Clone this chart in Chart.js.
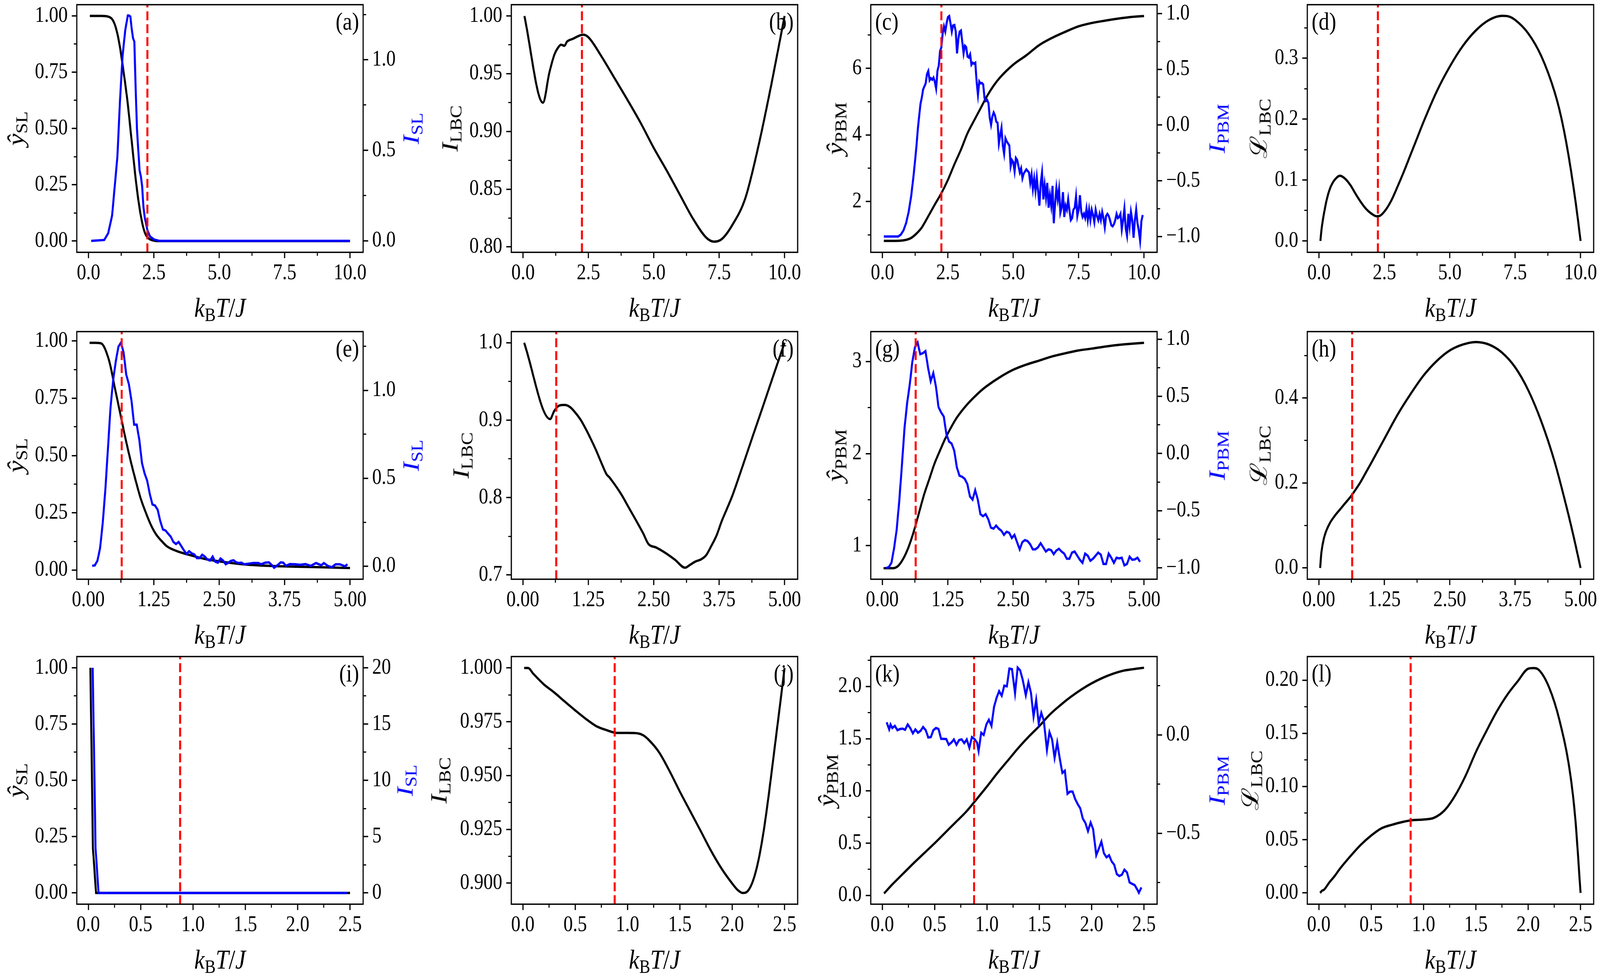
<!DOCTYPE html>
<html>
<head>
<meta charset="utf-8">
<title>SL / LBC / PBM panels</title>
<script src="https://cdn.jsdelivr.net/npm/chart.js@4.4.1/dist/chart.umd.min.js"></script>
<style>
  html, body { margin: 0; padding: 0; background: #fff; overflow: hidden; width: 100%; height: 100%; }
  body { font-family: 'Liberation Serif', 'DejaVu Serif', serif; color: #000; }
  #fig { position: absolute; left: 0; top: 0; width: 4772px; height: 2504px; transform-origin: 0 0; background: #fff; }
  canvas { position: absolute; }
  .lab { position: absolute; font-size: 70px; line-height: 1; white-space: nowrap;
         transform: translate(-50%, -50%); }
  .lab.rot { transform: translate(-50%, -50%) rotate(-90deg); }
  .lab sub { font-size: 0.7em; vertical-align: baseline; position: relative; top: 0.22em; font-style: normal; }
  .tag { position: absolute; font-size: 63px; line-height: 1; white-space: nowrap; }
  .blue { color: #0000ff; }
</style>
</head>
<body>
<div id="fig"></div>
<script>
// ---- x axes, one per row ----
const xRange = [[-0.45, 10.5], [-0.22, 5.25], [-0.11, 2.625]];
const xTicks = [[0, 2.5, 5, 7.5, 10], [0, 1.25, 2.5, 3.75, 5], [0, 0.5, 1, 1.5, 2, 2.5]];
const xMinor = [[1.25, 3.75, 6.25, 8.75], [0.625, 1.875, 3.125, 4.375], [0.25, 0.75, 1.25, 1.75, 2.25]];
const xDigits = [1, 2, 1];
const tcRow = [2.25, 0.638, 0.877];   // red dashed line per row

// ---- y tick sets ----
const ticksSL = [0, 0.25, 0.5, 0.75, 1.0];
const minorSL = [0.125, 0.375, 0.625, 0.875];
const ticksISL = [0, 0.5, 1.0];
const minorISL = [0.25, 0.75, 1.25];
const ticksIPBM = [-1.0, -0.5, 0, 0.5, 1.0];
const minorIPBM = [-0.75, -0.25, 0.25, 0.75];

// ---- (a) ----
const aBlack = [[0.05,1.0],[0.5,1.0],[0.75,0.997],[0.9,0.986],[1.0,0.963],[1.1,0.922],[1.2,0.862],[1.3,0.784],[1.4,0.701],[1.5,0.609],[1.6,0.499],[1.7,0.388],[1.8,0.278],[1.9,0.186],[2.0,0.112],[2.1,0.057],[2.2,0.025],[2.3,0.011],[2.5,0.002],[2.7,0.0],[10.0,0.0]];
const aBlue = [[0.1,0],[0.6,0.005],[0.75,0.042],[0.9,0.14],[1.0,0.30],[1.1,0.46],[1.15,0.61],[1.2,0.77],[1.3,1.02],[1.4,1.16],[1.5,1.244],[1.55,1.244],[1.6,1.238],[1.65,1.17],[1.7,1.12],[1.75,1.10],[1.8,0.85],[1.85,0.62],[1.95,0.39],[2.0,0.357],[2.05,0.30],[2.1,0.185],[2.15,0.128],[2.25,0.06],[2.35,0.025],[2.5,0.008],[2.7,0],[10.0,0]];
// ---- (b) ----
const bBlack = [[0.05,1.0],[0.76,0.9249],[1.0,0.9505],[1.2,0.9667],[1.35,0.973],[1.45,0.9751],[1.58,0.9742],[1.68,0.9778],[1.9,0.9802],[2.3,0.9838],[2.5,0.9815],[3.0,0.9649],[3.5,0.946],[4.0,0.927],[4.5,0.9072],[5.0,0.8856],[5.5,0.8658],[6.0,0.845],[6.5,0.8243],[7.0,0.8081],[7.3,0.8045],[7.6,0.8068],[8.0,0.8189],[8.5,0.8423],[9.0,0.8874],[9.5,0.9414],[10.0,1.0]];
// ---- (c) ----
const cBlack = [[0.05,0.82],[0.5,0.82],[0.9,0.85],[1.1,0.91],[1.3,1.04],[1.5,1.22],[1.75,1.56],[2.0,1.91],[2.25,2.25],[2.5,2.65],[2.75,3.12],[3.0,3.56],[3.25,4.05],[3.5,4.43],[3.75,4.80],[4.0,5.17],[4.25,5.48],[4.5,5.73],[5.0,6.11],[5.5,6.39],[6.0,6.70],[6.5,6.92],[7.0,7.10],[7.5,7.26],[8.0,7.36],[8.5,7.43],[9.0,7.49],[9.5,7.54],[10.0,7.57]];
const cBlue = [[0.05,-1.0],[0.6,-1.0],[0.7,-0.983],[0.8,-0.946],[0.9,-0.881],[1.0,-0.779],[1.1,-0.630],[1.2,-0.426],[1.3,-0.184],[1.35,-0.035],[1.4,0.076],[1.45,0.188],[1.5,0.243],[1.55,0.318],[1.6,0.346],[1.65,0.374],[1.7,0.457],[1.75,0.485],[1.8,0.401],[1.85,0.420],[1.9,0.407],[1.95,0.426],[2.0,0.388],[2.05,0.327],[2.1,0.485],[2.15,0.532],[2.2,0.662],[2.25,0.699],[2.3,0.820],[2.35,0.885],[2.4,0.838],[2.45,0.913],[2.5,0.968],[2.55,0.978],[2.6,0.913],[2.65,0.838],[2.7,0.894],[2.75,0.898],[2.8,0.838],[2.85,0.643],[2.9,0.773],[2.95,0.838],[3.0,0.848],[3.05,0.745],[3.1,0.643],[3.15,0.712],[3.2,0.699],[3.25,0.615],[3.3,0.606],[3.35,0.634],[3.4,0.541],[3.45,0.559],[3.5,0.550],[3.55,0.559],[3.6,0.383],[3.65,0.271],[3.7,0.392],[3.75,0.374],[3.8,0.377],[3.85,0.364],[3.9,0.243],[3.95,0.216],[4.0,0.225],[4.05,0.197],[4.1,0.067],[4.15,0.002],[4.2,0.076],[4.25,0.113],[4.3,0.086],[4.35,0.030],[4.4,0.020],[4.45,-0.165],[4.5,-0.091],[4.55,-0.026],[4.6,-0.184],[4.65,-0.258],[4.7,-0.119],[4.75,-0.147],[4.8,-0.165],[4.85,-0.184],[4.9,-0.370],[4.95,-0.314],[5.0,-0.333],[5.05,-0.416],[5.1,-0.296],[5.15,-0.314],[5.2,-0.370],[5.25,-0.426],[5.3,-0.388],[5.35,-0.478],[5.4,-0.435],[5.5,-0.398],[5.6,-0.426],[5.65,-0.519],[5.7,-0.444],[5.75,-0.574],[5.8,-0.481],[5.85,-0.593],[5.9,-0.472],[5.95,-0.593],[6.0,-0.723],[6.05,-0.519],[6.1,-0.426],[6.15,-0.667],[6.2,-0.537],[6.25,-0.649],[6.3,-0.519],[6.35,-0.742],[6.4,-0.630],[6.45,-0.723],[6.5,-0.546],[6.55,-0.881],[6.6,-0.704],[6.65,-0.565],[6.7,-0.667],[6.75,-0.574],[6.8,-0.788],[6.85,-0.742],[6.9,-0.602],[6.95,-0.825],[7.0,-0.723],[7.05,-0.760],[7.1,-0.667],[7.15,-0.770],[7.2,-0.853],[7.25,-0.835],[7.3,-0.760],[7.35,-0.742],[7.4,-0.639],[7.45,-0.816],[7.5,-0.760],[7.55,-0.630],[7.6,-0.779],[7.65,-0.825],[7.7,-0.797],[7.75,-0.835],[7.8,-0.751],[7.85,-0.853],[7.9,-0.760],[7.95,-0.853],[8.0,-0.760],[8.05,-0.807],[8.1,-0.872],[8.15,-0.760],[8.2,-0.816],[8.25,-0.853],[8.3,-0.797],[8.35,-0.853],[8.4,-0.779],[8.45,-0.835],[8.5,-0.918],[8.55,-0.816],[8.6,-0.797],[8.65,-0.816],[8.7,-0.853],[8.75,-0.900],[8.8,-0.909],[8.85,-0.890],[8.9,-0.853],[8.95,-0.797],[9.0,-0.835],[9.05,-0.825],[9.1,-0.797],[9.15,-0.937],[9.2,-0.853],[9.25,-0.751],[9.3,-0.928],[9.35,-0.993],[9.4,-0.797],[9.45,-0.909],[9.5,-0.779],[9.55,-0.853],[9.6,-1.011],[9.65,-0.853],[9.7,-0.760],[9.75,-0.881],[9.8,-0.946],[9.85,-1.039],[9.9,-0.862],[9.95,-0.807]];
// ---- (d) ----
const dBlack = [[0.05,0],[0.1,0.021],[0.2,0.048],[0.3,0.069],[0.4,0.084],[0.5,0.094],[0.7,0.105],[0.8,0.107],[1.0,0.102],[1.2,0.0915],[1.4,0.077],[1.6,0.0636],[1.8,0.0524],[2.0,0.0449],[2.2,0.0405],[2.3,0.0408],[2.5,0.0483],[2.75,0.0653],[3.0,0.0891],[3.25,0.1146],[3.5,0.1418],[3.75,0.169],[4.0,0.196],[4.5,0.2456],[5.0,0.2864],[5.5,0.3204],[6.0,0.3459],[6.5,0.3629],[7.0,0.3697],[7.25,0.3687],[7.5,0.3629],[8.0,0.3408],[8.5,0.3034],[9.0,0.2456],[9.25,0.2048],[9.5,0.1503],[9.75,0.0823],[9.9,0.0347],[10.0,0]];
// ---- (e) ----
const eBlack = [[0.025,0.992],[0.15,0.992],[0.25,0.989],[0.3,0.975],[0.35,0.948],[0.4,0.912],[0.45,0.862],[0.5,0.803],[0.55,0.749],[0.6,0.694],[0.65,0.640],[0.7,0.585],[0.8,0.485],[0.9,0.395],[1.0,0.313],[1.1,0.250],[1.2,0.195],[1.3,0.154],[1.4,0.127],[1.5,0.104],[1.7,0.082],[1.9,0.068],[2.2,0.050],[2.5,0.038],[3.0,0.0245],[3.5,0.018],[4.0,0.0145],[4.5,0.012],[5.0,0.009]];
const eBlue = [[0.075,0.002],[0.125,0.005],[0.175,0.032],[0.225,0.103],[0.275,0.244],[0.325,0.433],[0.375,0.669],[0.425,0.906],[0.475,1.059],[0.525,1.165],[0.575,1.248],[0.625,1.272],[0.675,1.213],[0.725,1.089],[0.775,1.035],[0.825,0.941],[0.875,0.805],[0.925,0.805],[0.975,0.717],[1.025,0.587],[1.075,0.528],[1.125,0.486],[1.175,0.410],[1.225,0.351],[1.275,0.345],[1.325,0.321],[1.375,0.256],[1.425,0.209],[1.475,0.203],[1.525,0.185],[1.575,0.168],[1.625,0.138],[1.675,0.126],[1.725,0.138],[1.775,0.115],[1.825,0.091],[1.875,0.070],[1.925,0.085],[1.975,0.073],[2.025,0.067],[2.075,0.046],[2.125,0.046],[2.175,0.065],[2.225,0.055],[2.275,0.038],[2.325,0.032],[2.375,0.055],[2.425,0.026],[2.475,0.020],[2.525,0.044],[2.575,0.032],[2.625,0.011],[2.675,0.020],[2.725,0.030],[2.775,0.034],[2.825,0.022],[2.875,0.018],[2.925,0.020],[2.975,0.011],[3.05,0.014],[3.15,0.018],[3.25,0.018],[3.3,0.011],[3.375,0.020],[3.45,0.022],[3.5,0.008],[3.55,-0.009],[3.625,0.008],[3.675,0.022],[3.725,0.020],[3.775,0.002],[3.85,0.012],[3.95,0.011],[4.05,0.008],[4.15,0.012],[4.25,0.002],[4.35,0.018],[4.45,0.005],[4.5,0.018],[4.575,0.002],[4.65,-0.006],[4.725,0.011],[4.8,0.011],[4.85,0.006],[4.9,-0.001],[4.95,0.011]];
// ---- (f) ----
const fBlack = [[0.025,1.0],[0.52,0.9015],[0.6,0.912],[0.7,0.919],[0.8,0.9197],[0.9,0.917],[1.0,0.910],[1.1,0.901],[1.2,0.889],[1.3,0.8755],[1.4,0.861],[1.5,0.845],[1.6,0.830],[1.65,0.8264],[1.7,0.822],[1.8,0.8125],[1.9,0.802],[2.0,0.790],[2.1,0.778],[2.2,0.766],[2.3,0.7536],[2.4,0.740],[2.55,0.7354],[2.7,0.7295],[2.9,0.720],[3.1,0.7094],[3.2,0.7134],[3.3,0.7174],[3.4,0.720],[3.5,0.7254],[3.6,0.7375],[3.7,0.751],[3.8,0.7697],[3.9,0.7857],[4.0,0.802],[4.2,0.841],[4.4,0.881],[4.6,0.9205],[4.8,0.9606],[5.0,1.0]];
// ---- (g) ----
const gBlack = [[0.025,0.756],[0.2,0.756],[0.3,0.779],[0.4,0.858],[0.5,0.982],[0.6,1.151],[0.7,1.354],[0.8,1.557],[0.9,1.726],[1.0,1.895],[1.1,2.03],[1.2,2.16],[1.3,2.27],[1.4,2.37],[1.5,2.45],[1.6,2.52],[1.75,2.61],[1.9,2.69],[2.0,2.735],[2.25,2.831],[2.5,2.910],[2.75,2.966],[3.0,3.011],[3.25,3.056],[3.5,3.090],[3.75,3.120],[4.0,3.140],[4.25,3.162],[4.5,3.180],[4.75,3.192],[5.0,3.203]];
const gBlue = [[0.075,-1.002],[0.125,-0.993],[0.175,-0.956],[0.225,-0.829],[0.275,-0.666],[0.325,-0.412],[0.375,-0.103],[0.425,0.223],[0.475,0.441],[0.525,0.604],[0.575,0.804],[0.625,0.931],[0.675,0.971],[0.725,0.868],[0.775,0.877],[0.825,0.895],[0.875,0.750],[0.925,0.632],[0.975,0.704],[1.025,0.586],[1.075,0.405],[1.125,0.359],[1.175,0.323],[1.225,0.169],[1.275,0.105],[1.325,0.087],[1.375,0.024],[1.425,-0.122],[1.475,-0.194],[1.525,-0.203],[1.575,-0.221],[1.625,-0.267],[1.675,-0.376],[1.725,-0.403],[1.775,-0.321],[1.825,-0.403],[1.875,-0.530],[1.925,-0.548],[1.975,-0.530],[2.025,-0.575],[2.075,-0.648],[2.125,-0.657],[2.175,-0.630],[2.225,-0.657],[2.275,-0.675],[2.325,-0.711],[2.375,-0.684],[2.425,-0.693],[2.475,-0.739],[2.525,-0.711],[2.575,-0.775],[2.625,-0.838],[2.675,-0.775],[2.725,-0.757],[2.775,-0.766],[2.825,-0.793],[2.875,-0.838],[2.925,-0.838],[2.975,-0.820],[3.025,-0.784],[3.075,-0.820],[3.125,-0.857],[3.175,-0.838],[3.225,-0.844],[3.275,-0.880],[3.325,-0.848],[3.375,-0.833],[3.425,-0.857],[3.475,-0.875],[3.525,-0.920],[3.575,-0.920],[3.625,-0.866],[3.675,-0.857],[3.725,-0.893],[3.775,-0.929],[3.825,-0.956],[3.875,-0.875],[3.925,-0.893],[3.975,-0.938],[4.025,-0.920],[4.075,-0.893],[4.125,-0.866],[4.175,-0.884],[4.225,-0.966],[4.275,-0.966],[4.325,-0.875],[4.375,-0.911],[4.425,-0.956],[4.475,-0.911],[4.525,-0.917],[4.575,-0.911],[4.625,-0.978],[4.675,-0.966],[4.725,-0.902],[4.775,-0.929],[4.825,-0.926],[4.875,-0.911],[4.925,-0.947]];
// ---- (h) ----
const hBlack = [[0.025,0],[0.05,0.037],[0.1,0.071],[0.2,0.103],[0.3,0.122],[0.4,0.137],[0.5,0.152],[0.6,0.1665],[0.7,0.184],[0.8,0.203],[0.9,0.225],[1.0,0.247],[1.25,0.3036],[1.5,0.360],[1.75,0.409],[2.0,0.453],[2.25,0.487],[2.5,0.512],[2.75,0.526],[3.0,0.532],[3.25,0.526],[3.5,0.507],[3.75,0.4726],[4.0,0.4187],[4.25,0.345],[4.5,0.252],[4.75,0.1347],[4.9,0.0563],[5.0,0]];
// ---- (i) ----
const iBlack = [[0.02,1.0],[0.044,0.2],[0.074,0],[2.5,0]];
const iBlue = [[0.042,20],[0.069,4.0],[0.098,0],[2.47,0]];
// ---- (j) ----
const jBlack = [[0.0125,1.0],[0.05,1.0],[0.1,0.9973],[0.2,0.9924],[0.3,0.9886],[0.4,0.9844],[0.5,0.9803],[0.6,0.9764],[0.7,0.973],[0.8,0.9711],[0.9,0.9698],[1.0,0.9698],[1.1,0.9696],[1.15,0.9687],[1.2,0.9667],[1.3,0.9609],[1.4,0.9522],[1.5,0.9425],[1.6,0.9333],[1.7,0.9241],[1.8,0.9148],[1.9,0.9066],[2.0,0.8998],[2.05,0.8969],[2.1,0.8954],[2.15,0.8964],[2.2,0.9013],[2.25,0.9105],[2.3,0.9241],[2.35,0.9415],[2.4,0.9609],[2.45,0.9803],[2.5,1.0]];
// ---- (k) ----
const kBlack = [[0.017,0.02],[0.1,0.11],[0.2,0.21],[0.3,0.31],[0.4,0.405],[0.5,0.50],[0.6,0.60],[0.7,0.70],[0.8,0.80],[0.9,0.92],[1.0,1.043],[1.1,1.172],[1.2,1.292],[1.3,1.412],[1.4,1.521],[1.5,1.621],[1.6,1.731],[1.7,1.820],[1.8,1.900],[1.9,1.970],[2.0,2.030],[2.1,2.080],[2.2,2.120],[2.3,2.150],[2.4,2.166],[2.5,2.179]];
const kBlue = [[0.042,0.064],[0.054,0.046],[0.066,0.028],[0.079,0.053],[0.096,0.035],[0.12,0.046],[0.145,0.024],[0.17,0.030],[0.194,0.032],[0.218,0.026],[0.243,0.053],[0.267,0.035],[0.292,0.008],[0.316,0.028],[0.341,0.011],[0.366,0.021],[0.39,0.040],[0.415,0.024],[0.439,-0.013],[0.464,-0.011],[0.488,0.024],[0.513,0.035],[0.537,0.030],[0.562,-0.020],[0.586,-0.020],[0.611,-0.021],[0.635,-0.050],[0.66,-0.039],[0.684,-0.023],[0.709,-0.050],[0.734,-0.026],[0.758,-0.023],[0.783,-0.042],[0.807,-0.023],[0.832,-0.066],[0.856,-0.011],[0.881,-0.021],[0.905,-0.039],[0.92,-0.082],[0.945,0.011],[0.969,0.0],[0.994,0.053],[1.018,0.077],[1.043,0.046],[1.067,0.141],[1.092,0.189],[1.116,0.222],[1.141,0.199],[1.165,0.250],[1.19,0.247],[1.214,0.337],[1.239,0.334],[1.268,0.212],[1.293,0.342],[1.317,0.328],[1.342,0.279],[1.371,0.201],[1.396,0.268],[1.42,0.215],[1.445,0.093],[1.47,0.178],[1.494,0.059],[1.519,0.112],[1.543,0.072],[1.573,-0.076],[1.597,0.014],[1.622,-0.023],[1.646,-0.117],[1.671,-0.039],[1.695,-0.119],[1.72,-0.193],[1.744,-0.182],[1.769,-0.299],[1.793,-0.288],[1.818,-0.288],[1.842,-0.325],[1.867,-0.352],[1.891,-0.373],[1.916,-0.426],[1.94,-0.447],[1.965,-0.489],[1.99,-0.445],[2.014,-0.479],[2.044,-0.611],[2.068,-0.579],[2.093,-0.542],[2.117,-0.601],[2.142,-0.622],[2.166,-0.611],[2.191,-0.643],[2.215,-0.659],[2.24,-0.707],[2.264,-0.717],[2.289,-0.710],[2.313,-0.685],[2.338,-0.699],[2.362,-0.749],[2.387,-0.757],[2.411,-0.763],[2.436,-0.786],[2.451,-0.802],[2.475,-0.775]];
// ---- (l) ----
const lBlack = [[0.0125,0],[0.03,0.002],[0.05,0.003],[0.1,0.0098],[0.15,0.0157],[0.2,0.0225],[0.3,0.0343],[0.4,0.0451],[0.5,0.0539],[0.6,0.0608],[0.7,0.0641],[0.8,0.0667],[0.9,0.0684],[1.0,0.069],[1.1,0.0706],[1.2,0.0775],[1.3,0.0912],[1.4,0.1098],[1.5,0.1324],[1.6,0.152],[1.7,0.1706],[1.8,0.1863],[1.9,0.199],[2.0,0.2108],[2.05,0.2114],[2.1,0.2098],[2.2,0.1931],[2.3,0.1618],[2.4,0.1127],[2.45,0.0696],[2.5,0]];

// ---- axis titles ----
const labYSL = '<i>ŷ</i><sub>SL</sub>';
const labYPBM = '<i>ŷ</i><sub>PBM</sub>';
const labILBC = '<i>I</i><sub>LBC</sub>';
const labLLBC = 'ℒ<sub>LBC</sub>';
const labISL = '<i>I</i><sub>SL</sub>';
const labIPBM = '<i>I</i><sub>PBM</sub>';
const labX = '<i>k</i><sub>B</sub><i>T</i>/<i>J</i>';

// layout of the plot boxes (figure pixels)
const FIG_W = 4772, FIG_H = 2504;
const boxW = 854, boxH = 634;
const colLeft = [229, 1525, 2597, 3899];
const rowTop = [12, 849, 1681];
const padL = 230, padT = 60, padB = 130;
const FONT = "'Liberation Serif', 'DejaVu Serif', serif";

// the browser window may be narrower than the figure: stretch the figure onto it
const fig = document.getElementById('fig');
const sx = (window.innerWidth || FIG_W) / FIG_W;
const sy = (window.innerHeight || FIG_H) / FIG_H;
if (Math.abs(sx - 1) > 0.002 || Math.abs(sy - 1) > 0.002) {
  fig.style.transform = 'scale(' + sx + ',' + sy + ')';
}

const panels = [
  { tag: '(a)', row: 0, col: 0, right: true, black: aBlack, blue: aBlue, smooth: true,
    y: { range: [-0.05, 1.05], ticks: ticksSL, minor: minorSL, digits: 2 },
    y2: { range: [-0.063, 1.304], ticks: ticksISL, minor: minorISL, digits: 1 },
    ylab: labYSL, ylabDx: 182, y2lab: labISL, y2labDx: 143 },
  { tag: '(b)', row: 0, col: 1, right: true, black: bBlack, smooth: true,
    y: { range: [0.7953, 1.0098], ticks: [0.8, 0.85, 0.9, 0.95, 1.0], minor: [0.825, 0.875, 0.925, 0.975], digits: 2 },
    ylab: labILBC, ylabDx: 183 },
  { tag: '(c)', row: 0, col: 2, right: false, black: cBlack, blue: cBlue, smooth: true,
    y: { range: [0.476, 7.91], ticks: [2, 4, 6], minor: [1, 3, 5, 7], digits: 0 },
    y2: { range: [-1.142, 1.08], ticks: ticksIPBM, minor: minorIPBM, digits: 1 },
    ylab: labYPBM, ylabDx: 107, y2lab: labIPBM, y2labDx: 179 },
  { tag: '(d)', row: 0, col: 3, right: false, black: dBlack, smooth: true,
    y: { range: [-0.0187, 0.388], ticks: [0, 0.1, 0.2, 0.3], minor: [0.05, 0.15, 0.25, 0.35], digits: 1 },
    ylab: labLLBC, ylabDx: 144 },
  { tag: '(e)', row: 1, col: 0, right: true, black: eBlack, blue: eBlue, smooth: true,
    y: { range: [-0.040, 1.041], ticks: ticksSL, minor: minorSL, digits: 2 },
    y2: { range: [-0.074, 1.334], ticks: ticksISL, minor: minorISL, digits: 1 },
    ylab: labYSL, ylabDx: 182, y2lab: labISL, y2labDx: 143 },
  { tag: '(f)', row: 1, col: 1, right: true, black: fBlack, smooth: true,
    y: { range: [0.6945, 1.0145], ticks: [0.7, 0.8, 0.9, 1.0], minor: [0.75, 0.85, 0.95], digits: 1 },
    ylab: labILBC, ylabDx: 150 },
  { tag: '(g)', row: 1, col: 2, right: false, black: gBlack, blue: gBlue, smooth: true,
    y: { range: [0.636, 3.325], ticks: [1, 2, 3], minor: [1.5, 2.5], digits: 0 },
    y2: { range: [-1.099, 1.066], ticks: ticksIPBM, minor: minorIPBM, digits: 1 },
    ylab: labYPBM, ylabDx: 107, y2lab: labIPBM, y2labDx: 179 },
  { tag: '(h)', row: 1, col: 3, right: false, black: hBlack, smooth: true,
    y: { range: [-0.0265, 0.5565], ticks: [0, 0.2, 0.4], minor: [0.1, 0.3, 0.5], digits: 1 },
    ylab: labLLBC, ylabDx: 144 },
  { tag: '(i)', row: 2, col: 0, right: true, black: iBlack, blue: iBlue, smooth: false,
    y: { range: [-0.05, 1.05], ticks: ticksSL, minor: minorSL, digits: 2 },
    y2: { range: [-1.0, 21.0], ticks: [0, 5, 10, 15, 20], minor: [2.5, 7.5, 12.5, 17.5], digits: 0 },
    ylab: labYSL, ylabDx: 182, y2lab: labISL, y2labDx: 125 },
  { tag: '(j)', row: 2, col: 1, right: true, black: jBlack, smooth: true,
    y: { range: [0.8902, 1.0053], ticks: [0.9, 0.925, 0.95, 0.975, 1.0], minor: [0.9125, 0.9375, 0.9625, 0.9875], digits: 3 },
    ylab: labILBC, ylabDx: 216 },
  { tag: '(k)', row: 2, col: 2, right: false, black: kBlack, blue: kBlue, smooth: true,
    y: { range: [-0.083, 2.286], ticks: [0, 0.5, 1.0, 1.5, 2.0], minor: [0.25, 0.75, 1.25, 1.75, 2.25], digits: 1 },
    y2: { range: [-0.860, 0.398], ticks: [-0.5, 0], minor: [-0.75, -0.25, 0.25], digits: 1 },
    ylab: labYPBM, ylabDx: 132, y2lab: labIPBM, y2labDx: 179 },
  { tag: '(l)', row: 2, col: 3, right: false, black: lBlack, smooth: true,
    y: { range: [-0.0106, 0.2222], ticks: [0, 0.05, 0.1, 0.15, 0.2], minor: [0.025, 0.075, 0.125, 0.175], digits: 2 },
    ylab: labLLBC, ylabDx: 169 }
];

function fmt(v, d) {
  const s = Math.abs(v).toFixed(d);
  return (v < -1e-9 ? '\u2212' : '') + s;
}

function majorAxis(axis, pos, range, ticks, digits, size) {
  const horiz = pos === 'bottom';
  return {
    type: 'linear', axis: axis, position: pos, display: true, min: range[0], max: range[1], weight: 1,
    afterBuildTicks: s => { s.ticks = ticks.map(v => ({ value: v })); },
    afterFit: s => { if (horiz) s.height = size; else s.width = size; },
    grid: { display: true, drawOnChartArea: false, drawTicks: true, tickLength: 15,
            lineWidth: 3.5, tickWidth: 3.5, color: '#000', tickColor: '#000' },
    border: { display: false },
    ticks: { autoSkip: false, maxRotation: 0, minRotation: 0, padding: horiz ? 6 : 12,
             color: '#000', font: { family: FONT, size: 56 }, callback: v => fmt(v, digits) }
  };
}

function minorAxis(axis, pos, range, ticks) {
  const horiz = pos === 'bottom';
  return {
    type: 'linear', axis: axis, position: pos, display: true, min: range[0], max: range[1], weight: 0,
    afterBuildTicks: s => { s.ticks = ticks.map(v => ({ value: v })); },
    afterFit: s => { if (horiz) s.height = 0; else s.width = 0; },
    grid: { display: true, drawOnChartArea: false, drawTicks: true, tickLength: 9,
            lineWidth: 3, tickWidth: 3, color: '#000', tickColor: '#000' },
    border: { display: false },
    ticks: { display: false, autoSkip: false }
  };
}

function curve(pts, color, axisId, extra) {
  return Object.assign({
    data: pts.map(p => ({ x: p[0], y: p[1] })),
    borderColor: color, borderWidth: 6, pointRadius: 0, fill: false,
    xAxisID: 'x', yAxisID: axisId, tension: 0
  }, extra || {});
}

// box around the plotting area (matplotlib spines)
const framePlugin = {
  id: 'frame',
  afterDatasetsDraw(chart) {
    const a = chart.chartArea, c = chart.ctx;
    c.save();
    c.lineWidth = 3.5;
    c.strokeStyle = '#000';
    c.strokeRect(a.left, a.top, a.right - a.left, a.bottom - a.top);
    c.restore();
  }
};

function addText(html, cls, css) {
  const d = document.createElement('div');
  d.className = cls;
  d.innerHTML = html;
  Object.assign(d.style, css);
  fig.appendChild(d);
}

function buildPanel(p) {
  const row = p.row;
  const bx = colLeft[p.col], by = rowTop[row];
  const padR = p.y2 ? 230 : 45;
  const W = boxW + padL + padR, H = boxH + padT + padB;

  const cv = document.createElement('canvas');
  cv.width = W; cv.height = H;
  cv.style.left = (bx - padL) + 'px';
  cv.style.top = (by - padT) + 'px';
  cv.style.width = W + 'px';
  cv.style.height = H + 'px';
  fig.appendChild(cv);

  const scales = {
    x: majorAxis('x', 'bottom', xRange[row], xTicks[row], xDigits[row], padB),
    xm: minorAxis('x', 'bottom', xRange[row], xMinor[row]),
    y: majorAxis('y', 'left', p.y.range, p.y.ticks, p.y.digits, padL),
    ym: minorAxis('y', 'left', p.y.range, p.y.minor)
  };
  const datasets = [];
  datasets.push(curve([[tcRow[row], p.y.range[0]], [tcRow[row], p.y.range[1]]], '#ff0000', 'y',
                      { borderDash: [23, 10] }));
  if (p.y2) {
    scales.y2 = majorAxis('y', 'right', p.y2.range, p.y2.ticks, p.y2.digits, padR);
    scales.y2m = minorAxis('y', 'right', p.y2.range, p.y2.minor);
    datasets.push(curve(p.blue, '#0000ff', 'y2'));
  }
  datasets.push(curve(p.black, '#000000', 'y', p.smooth ? { cubicInterpolationMode: 'monotone' } : {}));

  new Chart(cv, {
    type: 'line',
    data: { datasets: datasets },
    options: {
      responsive: false, animation: false, devicePixelRatio: 1, events: [],
      layout: { padding: { top: padT, right: p.y2 ? 0 : padR, bottom: 0, left: 0 } },
      plugins: { legend: { display: false }, tooltip: { enabled: false } },
      scales: scales
    },
    plugins: [framePlugin]
  });

  // axis titles and panel tag
  addText(labX, 'lab', { left: (bx + boxW / 2) + 'px', top: (by + boxH + 142) + 'px' });
  addText(p.ylab, 'lab rot', { left: (bx - p.ylabDx) + 'px', top: (by + boxH / 2) + 'px' });
  if (p.y2) {
    addText(p.y2lab, 'lab rot blue', { left: (bx + boxW + p.y2labDx) + 'px', top: (by + boxH / 2) + 'px' });
  }
  if (p.right) {
    addText(p.tag, 'tag', { left: (bx + boxW - 12) + 'px', top: (by + 12) + 'px', transform: 'translateX(-100%)' });
  } else {
    addText(p.tag, 'tag', { left: (bx + 13) + 'px', top: (by + 12) + 'px' });
  }
}

panels.forEach(buildPanel);
</script>
</body>
</html>
